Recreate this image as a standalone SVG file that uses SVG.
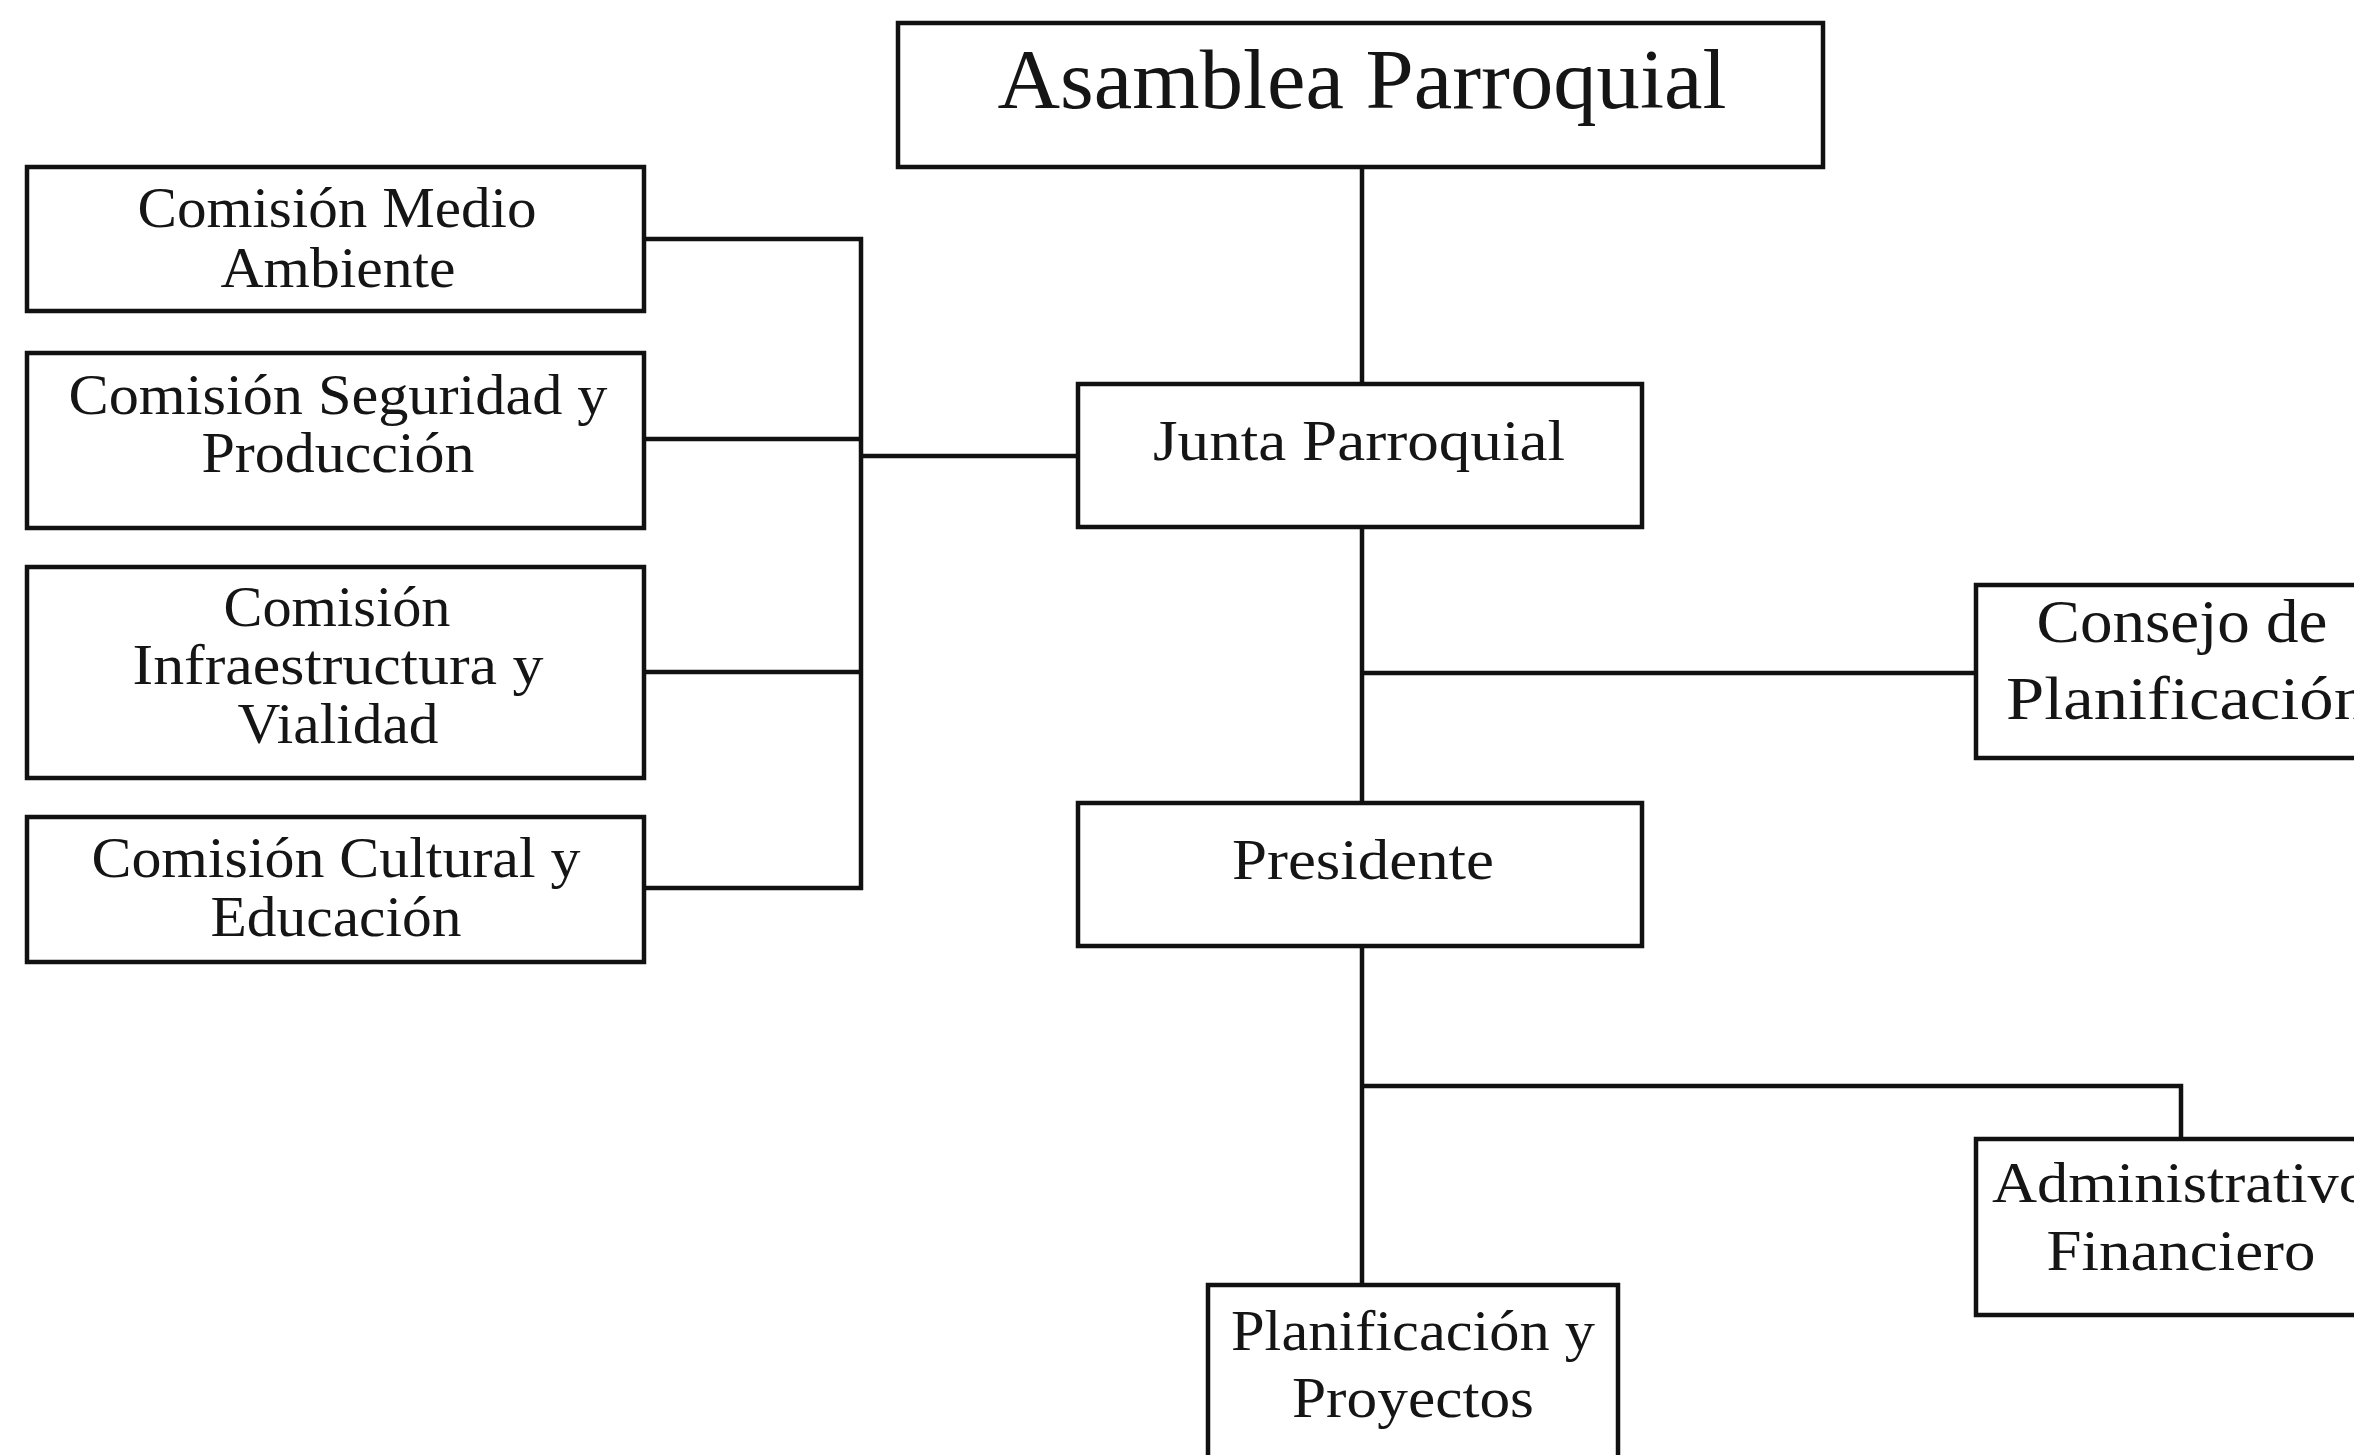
<svg xmlns="http://www.w3.org/2000/svg" width="2354" height="1455" viewBox="0 0 2354 1455">
<style>
.box{fill:#fff;stroke:#111;stroke-width:4.5}
.ln{fill:none;stroke:#111;stroke-width:4.5}
text{font-family:"Liberation Serif","DejaVu Serif",serif;fill:#151515;text-anchor:middle;font-size:57px}
.big{font-size:84px}
.mid{font-size:61px}
.st{text-anchor:start}
</style>
<rect width="2354" height="1455" fill="#fff"/>
<g id="connectors">
<path class="ln" d="M1362 167V384"/>
<path class="ln" d="M861 237V890"/>
<path class="ln" d="M644 239H863M644 439H863M644 672H863M644 888H863"/>
<path class="ln" d="M861 456H1078"/>
<path class="ln" d="M1362 527V803"/>
<path class="ln" d="M1362 673H1976"/>
<path class="ln" d="M1362 947V1285"/>
<path class="ln" d="M1362 1086H2181V1139"/>
</g>
<g id="asamblea">
<rect class="box" x="898" y="23" width="925" height="144"/>
<text class="big" x="1362" y="108" textLength="729" lengthAdjust="spacingAndGlyphs">Asamblea Parroquial</text>
</g>
<g id="comision-medio-ambiente">
<rect class="box" x="27" y="167" width="617" height="144"/>
<text x="337" y="227" textLength="399" lengthAdjust="spacingAndGlyphs">Comisión Medio</text>
<text x="338" y="287" textLength="235" lengthAdjust="spacingAndGlyphs">Ambiente</text>
</g>
<g id="comision-seguridad">
<rect class="box" x="27" y="353" width="617" height="175"/>
<text x="338" y="414" textLength="539" lengthAdjust="spacingAndGlyphs">Comisión Seguridad y</text>
<text x="338" y="472" textLength="273" lengthAdjust="spacingAndGlyphs">Producción</text>
</g>
<g id="comision-infraestructura">
<rect class="box" x="27" y="567" width="617" height="211"/>
<text x="337" y="626" textLength="227" lengthAdjust="spacingAndGlyphs">Comisión</text>
<text x="338" y="684" textLength="411" lengthAdjust="spacingAndGlyphs">Infraestructura y</text>
<text x="338" y="743" textLength="201" lengthAdjust="spacingAndGlyphs">Vialidad</text>
</g>
<g id="comision-cultural">
<rect class="box" x="27" y="817" width="617" height="145"/>
<text x="336" y="877" textLength="489" lengthAdjust="spacingAndGlyphs">Comisión Cultural y</text>
<text x="336" y="936" textLength="251" lengthAdjust="spacingAndGlyphs">Educación</text>
</g>
<g id="junta">
<rect class="box" x="1078" y="384" width="564" height="143"/>
<text x="1359" y="460" textLength="412" lengthAdjust="spacingAndGlyphs">Junta Parroquial</text>
</g>
<g id="consejo">
<rect class="box" x="1976" y="585" width="450" height="173"/>
<text class="mid" x="2182" y="642" textLength="291" lengthAdjust="spacingAndGlyphs">Consejo de</text>
<text class="mid st" x="2006" y="719" textLength="362" lengthAdjust="spacingAndGlyphs">Planificación</text>
</g>
<g id="presidente">
<rect class="box" x="1078" y="803" width="564" height="143"/>
<text x="1363" y="879" textLength="262" lengthAdjust="spacingAndGlyphs">Presidente</text>
</g>
<g id="administrativo">
<rect class="box" x="1976" y="1139" width="450" height="176"/>
<text class="st" x="1992" y="1202" textLength="378" lengthAdjust="spacingAndGlyphs">Administrativo</text>
<text x="2181" y="1270" textLength="269" lengthAdjust="spacingAndGlyphs">Financiero</text>
</g>
<g id="planificacion">
<rect class="box" x="1208" y="1285" width="410" height="200"/>
<text x="1413" y="1350" textLength="364" lengthAdjust="spacingAndGlyphs">Planificación y</text>
<text x="1413" y="1417" textLength="242" lengthAdjust="spacingAndGlyphs">Proyectos</text>
</g>
</svg>
